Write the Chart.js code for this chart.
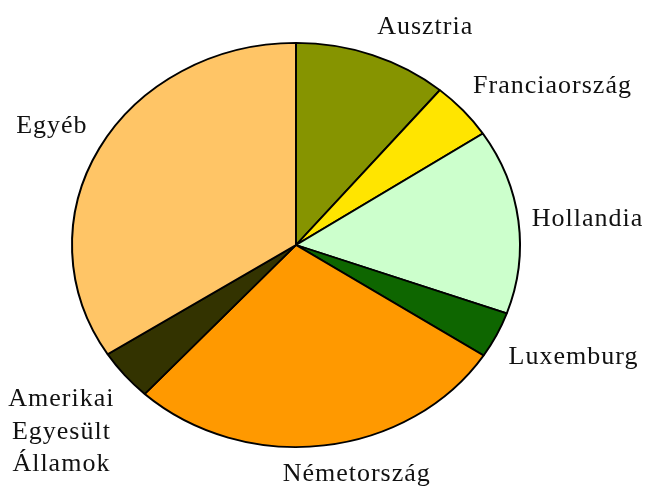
<!DOCTYPE html>
<html>
<head>
<meta charset="utf-8">
<script src="https://cdn.jsdelivr.net/npm/chart.js@4"></script>
<style>
  html, body { margin: 0; padding: 0; background: #fff; }
  #wrap { width: 649px; height: 488px; position: relative; }
</style>
</head>
<body>
<div id="wrap"><canvas id="pie" width="649" height="488"></canvas></div>
<script>
// Pie data (shares in %)
const countries = ['Ausztria', 'Franciaország', 'Hollandia', 'Luxemburg', 'Németország', 'Amerikai Egyesült Államok', 'Egyéb'];
const labelLines = [['Ausztria'], ['Franciaország'], ['Hollandia'], ['Luxemburg'], ['Németország'], ['Amerikai', 'Egyesült', 'Államok'], ['Egyéb']];
const shares = [11.1, 4.6, 14.8, 3.7, 27.6, 4.1, 34.1];
const colors = ['#869400', '#FFE500', '#CCFFCC', '#0E6600', '#FF9900', '#333300', '#FFC566'];

// pie is drawn as an ellipse: squash vertically around its center
const squash = 0.902;

const ellipsePlugin = {
    id: 'ellipse',
    beforeDatasetsDraw(chart) {
        const arc = chart.getDatasetMeta(0).data[0];
        const ctx = chart.ctx;
        ctx.save();
        ctx.translate(arc.x, arc.y);
        ctx.scale(1, squash);
        ctx.translate(-arc.x, -arc.y);
    },
    afterDatasetsDraw(chart) {
        chart.ctx.restore();
    }
};

// Outside labels placed around the ellipse
const labelPlugin = {
    id: 'outLabels',
    afterDraw(chart) {
        const ctx = chart.ctx;
        const meta = chart.getDatasetMeta(0);
        ctx.save();
        ctx.font = '26px "Liberation Serif", serif';
        ctx.letterSpacing = '1px';
        ctx.fillStyle = '#111';
        const lh = 32.5;
        meta.data.forEach((arc, i) => {
            const mid = (arc.startAngle + arc.endAngle) / 2;
            const r = arc.outerRadius * 1.06;
            const cx = Math.cos(mid), sy = Math.sin(mid);
            const x = arc.x + r * cx;
            const y = arc.y + r * squash * sy;
            const lines = labelLines[i];
            const w = Math.max(...lines.map(l => ctx.measureText(l).width));
            const h = lines.length * lh;
            // slide the box smoothly from right-anchored to left-anchored
            const t = Math.max(-1, Math.min(1, cx / 0.3));
            const left = x - w / 2 + t * w / 2;
            let top;
            if (sy < -0.3) top = y - h;
            else if (sy > 0.3) top = y;
            else top = y - h / 2;
            ctx.textAlign = 'center';
            ctx.textBaseline = 'middle';
            lines.forEach((l, k) => {
                ctx.fillText(l, left + w / 2, top + lh * (k + 0.5));
            });
        });
        ctx.restore();
    }
};

new Chart(document.getElementById('pie'), {
    type: 'pie',
    data: {
        labels: countries,
        datasets: [{
            data: shares,
            backgroundColor: colors,
            borderColor: '#000',
            borderWidth: 2
        }]
    },
    options: {
        responsive: false,
        animation: false,
        layout: { padding: { left: 71, right: 128, top: 20, bottom: 18 } },
        plugins: {
            legend: { display: false },
            tooltip: { enabled: false }
        }
    },
    plugins: [ellipsePlugin, labelPlugin]
});
</script>
</body>
</html>
